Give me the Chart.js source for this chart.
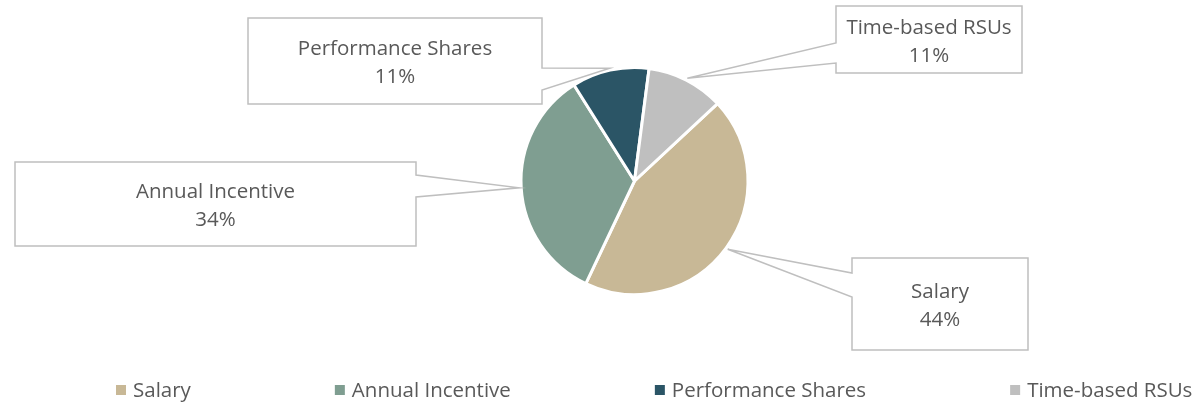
<!DOCTYPE html>
<html>
<head>
<meta charset="utf-8">
<script src="https://cdn.jsdelivr.net/npm/chart.js@4"></script>
<style>
  body { margin: 0; background: #fff; }
  #wrap { width: 1199px; height: 404px; }
</style>
</head>
<body>
<div id="wrap"><canvas id="pay-mix"></canvas></div>
<script>
// data
const labels = ['Salary', 'Annual Incentive', 'Performance Shares', 'Time-based RSUs']
const shares = [44, 34, 11, 11]
const colors = ['#C8B896', '#7F9E91', '#2B5566', '#BFBFBF']

const text_color = '#595959'
const font = '20.5px "Open Sans", Lato, sans-serif'

// callout boxes: box rect + the two points where the wedge leaves the box
const callouts = [
  { l: 852, t: 258, r: 1028, b: 350, side: 'left', a1: 273, a2: 297 },
  { l: 15, t: 162, r: 416, b: 246, side: 'right', a1: 175, a2: 197 },
  { l: 248, t: 18, r: 542, b: 104, side: 'right', a1: 68, a2: 90 },
  { l: 836, t: 6, r: 1022, b: 73, side: 'left', a1: 43, a2: 63 }
]

// legend: items laid out left to right with an even gap, starting at x=116
const legend_start = 116
const legend_gap = 144
const legend_y = 390

const calloutPlugin = {
  id: 'callouts',
  afterDatasetsDraw(chart) {
    const ctx = chart.ctx
    const arcs = chart.getDatasetMeta(0).data
    ctx.save()
    arcs.forEach((arc, i) => {
      const c = callouts[i]
      const p = arc.getProps(['x', 'y', 'startAngle', 'endAngle', 'outerRadius'], true)
      const mid = (p.startAngle + p.endAngle) / 2
      const tx = p.x + Math.cos(mid) * (p.outerRadius + 2)
      const ty = p.y + Math.sin(mid) * (p.outerRadius + 2)

      ctx.beginPath()
      ctx.moveTo(c.l, c.t)
      ctx.lineTo(c.r, c.t)
      if (c.side == 'right') {
        ctx.lineTo(c.r, c.a1)
        ctx.lineTo(tx, ty)
        ctx.lineTo(c.r, c.a2)
      }
      ctx.lineTo(c.r, c.b)
      ctx.lineTo(c.l, c.b)
      if (c.side == 'left') {
        ctx.lineTo(c.l, c.a2)
        ctx.lineTo(tx, ty)
        ctx.lineTo(c.l, c.a1)
      }
      ctx.closePath()
      ctx.fillStyle = '#ffffff'
      ctx.fill()
      ctx.strokeStyle = '#BFBFBF'
      ctx.lineWidth = 1.5
      ctx.stroke()

      const cx = (c.l + c.r) / 2
      const cy = (c.t + c.b) / 2
      ctx.fillStyle = text_color
      ctx.font = font
      ctx.textAlign = 'center'
      ctx.textBaseline = 'alphabetic'
      ctx.fillText(labels[i], cx, cy - 6)
      ctx.fillText(shares[i] + '%', cx, cy + 22)
    })
    ctx.restore()
  }
}

const legendPlugin = {
  id: 'bottomLegend',
  afterDraw(chart) {
    const ctx = chart.ctx
    ctx.save()
    ctx.font = font
    ctx.textAlign = 'left'
    ctx.textBaseline = 'alphabetic'
    let x = legend_start
    labels.forEach((lab, i) => {
      ctx.fillStyle = colors[i]
      ctx.fillRect(x, legend_y - 5, 10, 10)
      ctx.fillStyle = text_color
      ctx.fillText(lab, x + 17, legend_y + 7)
      x += 17 + ctx.measureText(lab).width + legend_gap
    })
    ctx.restore()
  }
}

let chart = new Chart(document.querySelector('#pay-mix'), {
  type: 'pie',
  data: {
    labels: labels,
    datasets: [{
      data: shares,
      backgroundColor: colors,
      borderColor: '#ffffff',
      borderWidth: 3
    }]
  },
  options: {
    responsive: true,
    maintainAspectRatio: false,
    animation: false,
    rotation: 47,
    layout: {
      padding: { top: 66, bottom: 108, left: 70, right: 0 }
    },
    plugins: {
      legend: { display: false },
      tooltip: { enabled: false }
    }
  },
  plugins: [calloutPlugin, legendPlugin]
})
</script>
</body>
</html>
